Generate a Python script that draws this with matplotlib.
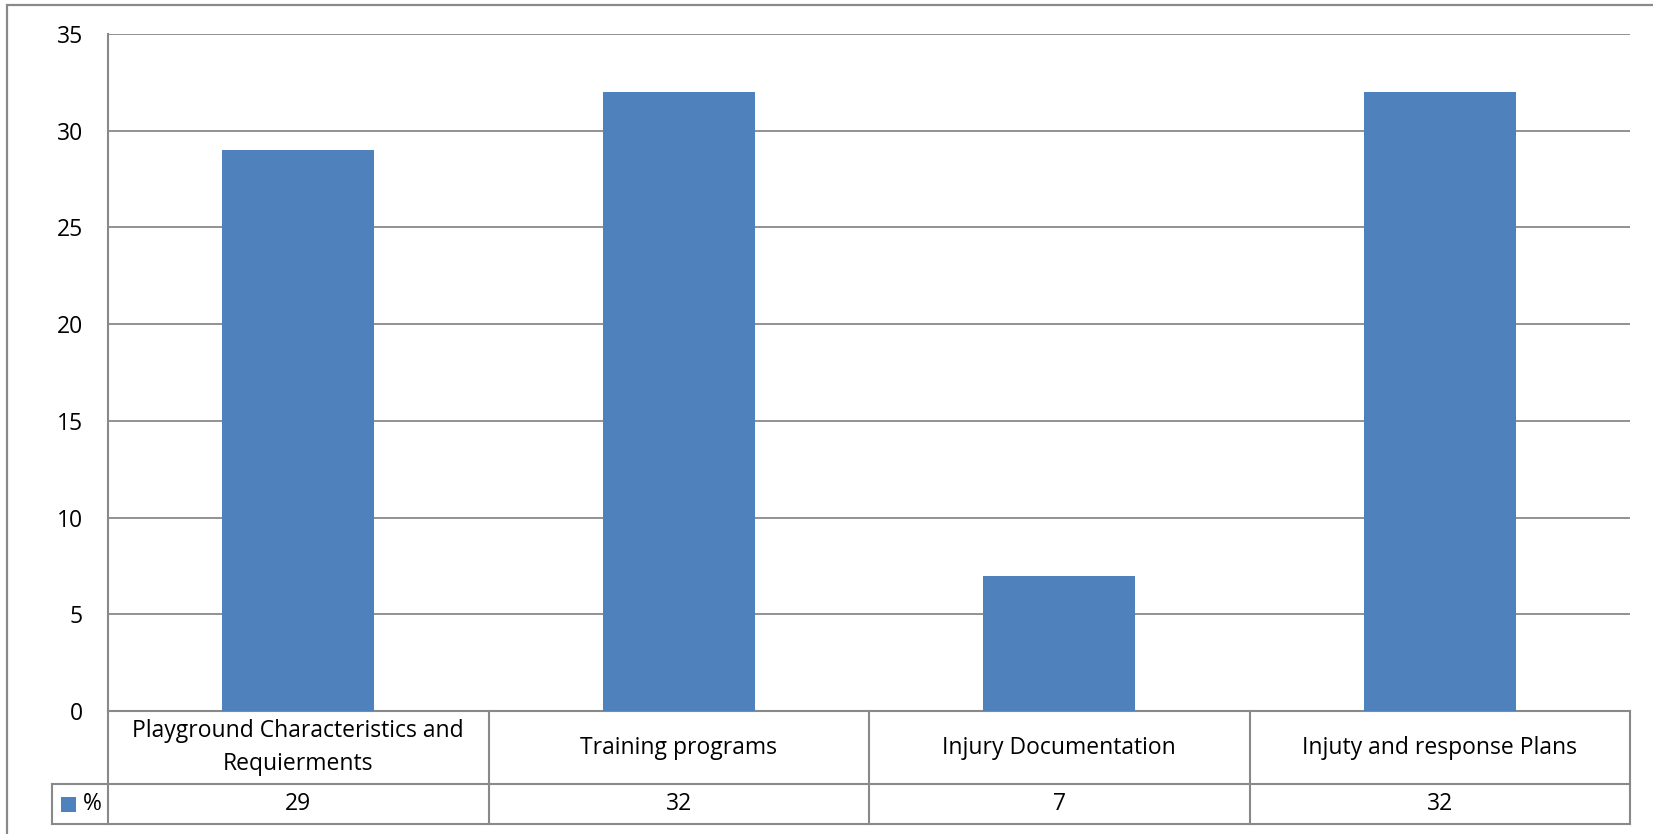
import matplotlib
matplotlib.use("Agg")
import matplotlib.pyplot as plt
from matplotlib.patches import Rectangle
from matplotlib.lines import Line2D
from matplotlib.transforms import blended_transform_factory

# dane wykresu
categories = [
    "Playground Characteristics and\nRequierments",
    "Training programs",
    "Injury Documentation",
    "Injuty and response Plans",
]
values = [29, 32, 7, 32]
series_name = "%"
y_ticks = [0, 5, 10, 15, 20, 25, 30, 35]

BAR_COLOR = "#4F81BD"
LINE_COLOR = "#898989"
FONT_SIZE = 16.5

W, H, DPI = 1653, 834, 100
plt.rcParams["font.family"] = ["Open Sans", "DejaVu Sans"]

fig = plt.figure(figsize=(W / DPI, H / DPI), dpi=DPI)

# obszar wykresu (w pikselach)
L, R, T, B = 108, 1630, 34, 711
ROW1, ROW2 = 784, 824      # dolne krawędzie wierszy tabeli
LEG_X = 52                 # lewa krawędź komórki legendy

ax = fig.add_axes([L / W, 1 - B / H, (R - L) / W, (B - T) / H])
x = list(range(len(categories)))
ax.bar(x, values, width=0.4, color=BAR_COLOR, zorder=3)
ax.set_xlim(-0.5, len(categories) - 0.5)
ax.set_ylim(y_ticks[0], y_ticks[-1])
ax.set_yticks(y_ticks)
ax.set_yticklabels([str(t) for t in y_ticks], fontsize=FONT_SIZE)
ax.set_xticks([])
ax.tick_params(axis="y", length=0, pad=18)
ax.yaxis.grid(True, color=LINE_COLOR, linewidth=1.3, zorder=0)
for side in ("top", "right"):
    ax.spines[side].set_visible(False)
for side in ("left", "bottom"):
    ax.spines[side].set_color(LINE_COLOR)
    ax.spines[side].set_linewidth(1.5)

# tabela danych pod osią X
def fy(py):
    return 1 - py / H

tr = blended_transform_factory(ax.transData, fig.transFigure)
lkw = dict(color=LINE_COLOR, linewidth=1.5, clip_on=False)

for i in range(len(categories) + 1):
    fig.add_artist(Line2D([i - 0.5, i - 0.5], [fy(B), fy(ROW2)], transform=tr, **lkw))
for py in (ROW1, ROW2):
    fig.add_artist(Line2D([LEG_X / W, R / W], [fy(py), fy(py)],
                          transform=fig.transFigure, **lkw))
fig.add_artist(Line2D([LEG_X / W, LEG_X / W], [fy(ROW1), fy(ROW2)],
                      transform=fig.transFigure, **lkw))

for i, (cat, val) in enumerate(zip(categories, values)):
    fig.text(i, fy((B + ROW1) / 2), cat, transform=tr, ha="center", va="center",
             fontsize=FONT_SIZE, linespacing=1.5)
    fig.text(i, fy((ROW1 + ROW2) / 2), str(val), transform=tr, ha="center",
             va="center", fontsize=FONT_SIZE)

# klucz legendy w tabeli
fig.add_artist(Rectangle((61 / W, fy(812)), 15 / W, 15 / H, facecolor=BAR_COLOR,
                         edgecolor="none", transform=fig.transFigure))
fig.text(83 / W, fy((ROW1 + ROW2) / 2), series_name, ha="left", va="center",
         fontsize=FONT_SIZE)

# ramka całego wykresu
fig.add_artist(Rectangle((7 / W, fy(H + 10)), (W + 10) / W, (H + 5) / H,
                         facecolor="none", edgecolor=LINE_COLOR, linewidth=1.6,
                         transform=fig.transFigure, clip_on=False))

fig.savefig("out.png", dpi=DPI)
